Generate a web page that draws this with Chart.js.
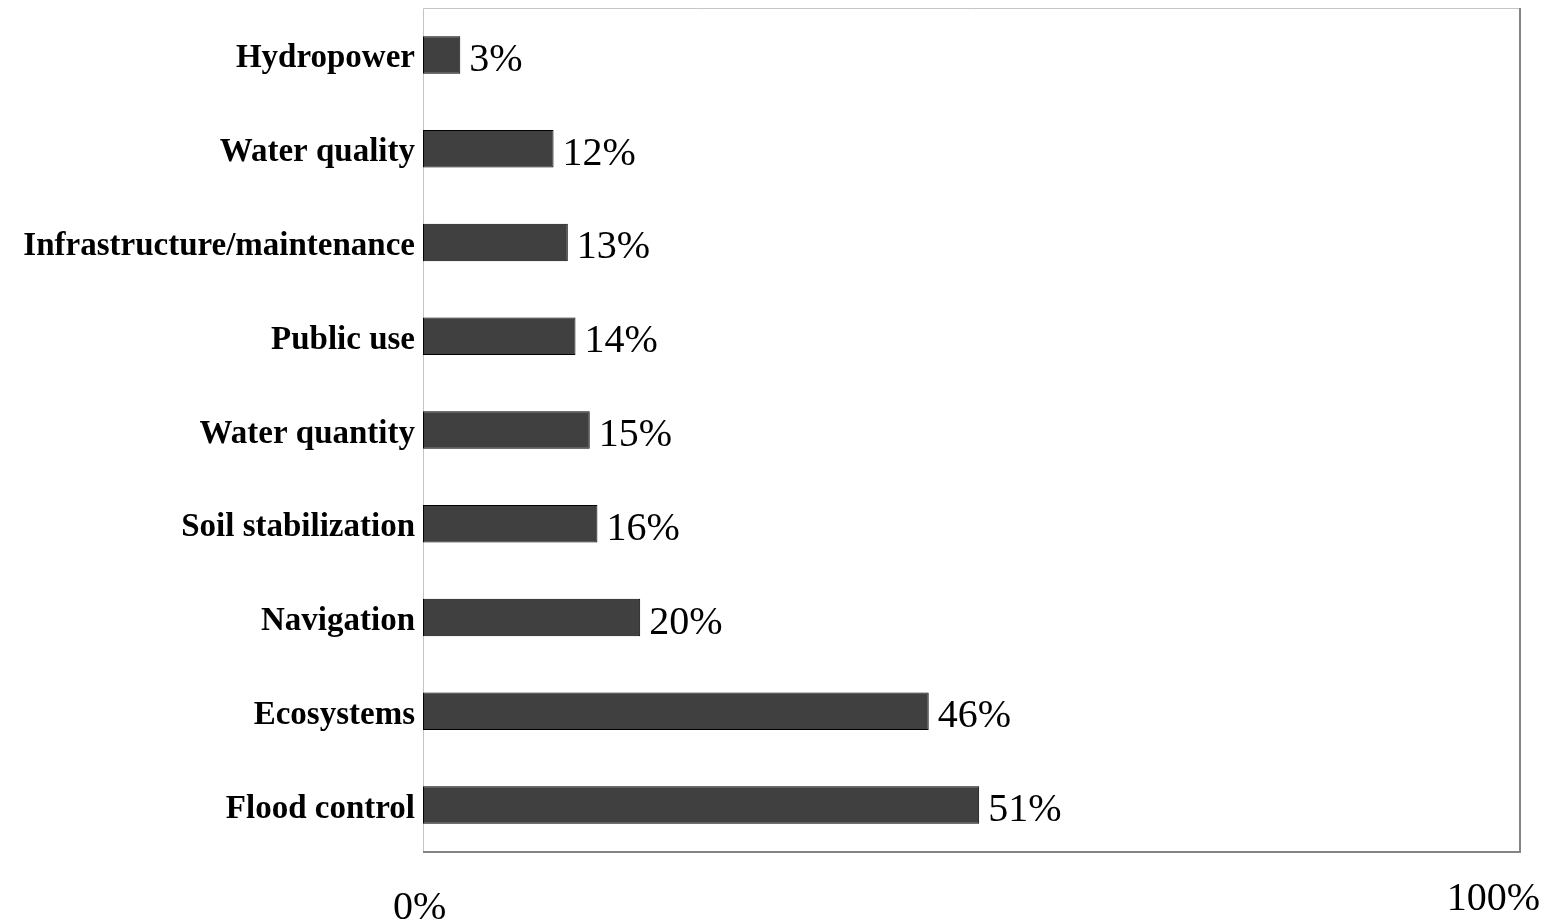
<!DOCTYPE html>
<html>
<head>
<meta charset="utf-8">
<script src="https://cdn.jsdelivr.net/npm/chart.js@4.4.1/dist/chart.umd.min.js"></script>
<style>
    html, body { margin: 0; padding: 0; background: #fff; }
    #wrap { width: 1556px; height: 924px; }
</style>
</head>
<body>
<div id="wrap"><canvas id="barChart"></canvas></div>
<script>
const categories = ['Hydropower', 'Water quality', 'Infrastructure/maintenance', 'Public use',
    'Water quantity', 'Soil stabilization', 'Navigation', 'Ecosystems', 'Flood control'];
const shares = [3.4, 11.9, 13.2, 13.9, 15.2, 15.9, 19.8, 46.1, 50.7];
const axisLabels = ['0%', '100%'];

const serif = '"Liberation Serif", "DejaVu Serif", serif';

// box round the plot: light on top/left, darker on right/bottom
const frame = {
    id: 'frame',
    beforeDatasetsDraw(chart) {
        const { ctx, chartArea: a } = chart;
        ctx.save();
        ctx.strokeStyle = '#c4c4c4';
        ctx.lineWidth = 1;
        ctx.beginPath();
        ctx.moveTo(a.left + 0.5, a.bottom);
        ctx.lineTo(a.left + 0.5, a.top + 0.5);
        ctx.lineTo(a.right, a.top + 0.5);
        ctx.stroke();
        ctx.strokeStyle = '#858585';
        ctx.lineWidth = 2;
        ctx.beginPath();
        ctx.moveTo(a.right, a.top);
        ctx.lineTo(a.right, a.bottom);
        ctx.lineTo(a.left, a.bottom);
        ctx.stroke();
        ctx.restore();
    }
};

const valueLabels = {
    id: 'valueLabels',
    afterDatasetsDraw(chart) {
        const { ctx } = chart;
        const xs = chart.scales.x;
        ctx.save();
        ctx.fillStyle = '#000';
        ctx.font = '40px ' + serif;
        ctx.textBaseline = 'alphabetic';
        chart.getDatasetMeta(0).data.forEach((bar, i) => {
            ctx.textAlign = 'left';
            ctx.fillText(Math.round(shares[i]) + '%', bar.x + 9, bar.y + 16);
        });
        // the two end labels sit a bit off the axis ends, like in the source
        const a = chart.chartArea;
        ctx.textAlign = 'left';
        ctx.fillText(axisLabels[0], xs.getPixelForValue(0) - 30, a.bottom + 67);
        ctx.textAlign = 'right';
        ctx.fillText(axisLabels[1], xs.getPixelForValue(100) + 20, a.bottom + 58);
        ctx.restore();
    }
};

new Chart(document.getElementById('barChart'), {
    type: 'bar',
    data: {
        labels: categories,
        datasets: [{
            data: shares,
            backgroundColor: '#404040',
            borderColor: '#000',
            borderWidth: 1,
            borderSkipped: false,
            categoryPercentage: 1,
            barPercentage: 0.4
        }]
    },
    options: {
        indexAxis: 'y',
        responsive: true,
        maintainAspectRatio: false,
        animation: false,
        layout: { padding: { top: 8, right: 36, bottom: 72, left: 0 } },
        plugins: {
            legend: { display: false },
            tooltip: { enabled: false }
        },
        scales: {
            x: {
                display: false,
                min: 0,
                max: 100
            },
            y: {
                grid: { display: false },
                border: { display: false },
                ticks: {
                    color: '#000',
                    padding: 0,
                    labelOffset: 4,
                    font: { family: serif, size: 33, weight: 'bold' }
                },
                afterFit(scale) {
                    scale.width = 423;
                    scale.paddingTop = 0;
                    scale.paddingBottom = 0;
                }
            }
        }
    },
    plugins: [frame, valueLabels]
});
</script>
</body>
</html>
